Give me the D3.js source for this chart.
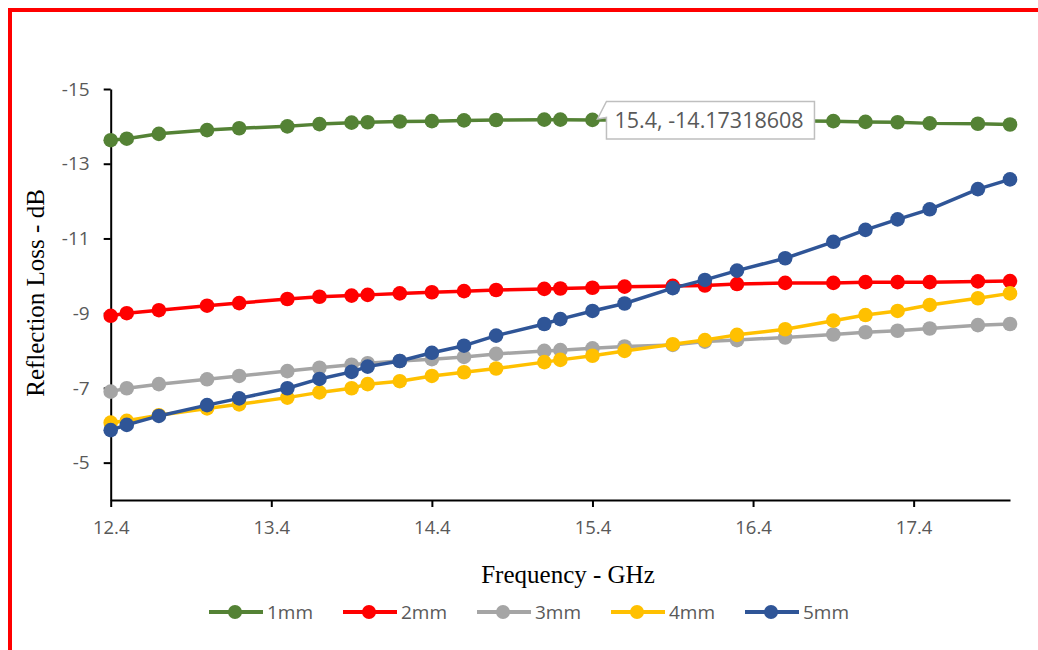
<!DOCTYPE html>
<html>
<head>
<meta charset="utf-8">
<script src="https://cdn.jsdelivr.net/npm/d3@7/dist/d3.min.js"></script>
<style>
  html, body { margin: 0; padding: 0; background: #fff; }
  svg { display: block; }
</style>
</head>
<body>
<svg id="chart" width="1038" height="650"></svg>
<script>
// Frequency sweep (GHz) shared by all thicknesses
const freq = [12.4, 12.5, 12.7, 13.0, 13.2, 13.5, 13.7, 13.9, 14.0, 14.2, 14.4, 14.6, 14.8,
              15.1, 15.2, 15.4, 15.6, 15.9, 16.1, 16.3, 16.6, 16.9, 17.1, 17.3, 17.5, 17.8, 18.0];

// Reflection loss (dB) per sample thickness
const rl1mm = [-13.63, -13.67, -13.80, -13.90, -13.95, -14.00, -14.06, -14.10, -14.11, -14.13, -14.14, -14.16, -14.17,
               -14.18, -14.18, -14.17318608, -14.17, -14.17, -14.16, -14.16, -14.15, -14.14, -14.12, -14.11, -14.08, -14.07, -14.05];
const rl2mm = [-8.93, -9.00, -9.08, -9.20, -9.27, -9.38, -9.44, -9.47, -9.49, -9.53, -9.56, -9.59, -9.62,
               -9.65, -9.66, -9.68, -9.71, -9.73, -9.74, -9.78, -9.81, -9.81, -9.83, -9.83, -9.83, -9.85, -9.86];
const rl3mm = [-6.90, -6.99, -7.10, -7.23, -7.32, -7.45, -7.54, -7.62, -7.66, -7.72, -7.77, -7.83, -7.91,
               -7.99, -8.01, -8.06, -8.11, -8.15, -8.24, -8.28, -8.35, -8.43, -8.49, -8.53, -8.59, -8.68, -8.71];
const rl4mm = [-6.07, -6.12, -6.27, -6.45, -6.56, -6.74, -6.88, -6.99, -7.10, -7.18, -7.32, -7.42, -7.52,
               -7.69, -7.75, -7.86, -7.99, -8.17, -8.28, -8.42, -8.57, -8.80, -8.95, -9.06, -9.22, -9.40, -9.53];
const rl5mm = [-5.87, -6.01, -6.25, -6.54, -6.72, -6.99, -7.24, -7.43, -7.57, -7.72, -7.94, -8.13, -8.40,
               -8.71, -8.84, -9.06, -9.26, -9.67, -9.89, -10.14, -10.47, -10.91, -11.23, -11.51, -11.78, -12.32, -12.58];

const seriesNames = ["1mm", "2mm", "3mm", "4mm", "5mm"];
const seriesValues = [rl1mm, rl2mm, rl3mm, rl4mm, rl5mm];
const seriesColors = ["#548235", "#FF0000", "#A5A5A5", "#FFC000", "#2F5597"];

const xTicks = [12.4, 13.4, 14.4, 15.4, 16.4, 17.4];
const yTicks = [-15, -13, -11, -9, -7, -5];

// Point carrying the data callout (series index, point index)
const calloutSeries = 0;
const calloutIndex = 15;

const svg = d3.select("#chart");

// Outer frame
svg.append("rect")
  .attr("x", 10).attr("y", 10)
  .attr("width", 1040).attr("height", 642)
  .attr("fill", "#fff")
  .attr("stroke", "#FF0000")
  .attr("stroke-width", 4);

const x = d3.scaleLinear().domain([12.4, 18.0]).range([110.7, 1010]);
const y = d3.scaleLinear().domain([-15, -4]).range([89, 500]);

const tickFont = "'Open Sans', 'Liberation Sans', sans-serif";

// X axis
const gx = svg.append("g")
  .attr("transform", `translate(0,${y(-4)})`)
  .call(d3.axisBottom(x).tickValues(xTicks).tickFormat(d3.format(".1f")).tickSize(7).tickSizeOuter(0).tickPadding(14));
gx.select(".domain").attr("stroke", "#000").attr("stroke-width", 2);
gx.selectAll(".tick line").attr("stroke", "#000").attr("stroke-width", 2);
gx.selectAll(".tick text").attr("fill", "#595959").style("font-family", tickFont).style("font-size", "18.5px");

// Y axis
const gy = svg.append("g")
  .attr("transform", `translate(${x(12.4)},0)`)
  .call(d3.axisLeft(y).tickValues(yTicks).tickFormat(d3.format("d")).tickSize(7).tickSizeOuter(0).tickPadding(14));
gy.select(".domain").attr("stroke", "#000").attr("stroke-width", 2);
gy.selectAll(".tick line").attr("stroke", "#000").attr("stroke-width", 2);
gy.selectAll(".tick text").attr("fill", "#595959").style("font-family", tickFont).style("font-size", "19px")
  .text(d => d3.format("d")(d).replace("\u2212", "-"));

// Axis titles
svg.append("text")
  .attr("x", 568).attr("y", 583)
  .attr("text-anchor", "middle")
  .style("font-family", "'Liberation Serif', 'Times New Roman', serif")
  .style("font-size", "25px")
  .attr("fill", "#000")
  .text("Frequency - GHz");

svg.append("text")
  .attr("transform", `translate(44,${293}) rotate(-90)`)
  .attr("text-anchor", "middle")
  .style("font-family", "'Liberation Serif', 'Times New Roman', serif")
  .style("font-size", "25px")
  .attr("fill", "#000")
  .text("Reflection Loss - dB");

// Series lines and markers
const line = d3.line().x(d => x(d.f)).y(d => y(d.v));
seriesValues.forEach((vals, i) => {
  const pts = freq.map((f, j) => ({ f, v: vals[j] }));
  const g = svg.append("g").attr("class", "series");
  g.append("path")
    .datum(pts)
    .attr("d", line)
    .attr("fill", "none")
    .attr("stroke", seriesColors[i])
    .attr("stroke-width", 3.5)
    .attr("stroke-linejoin", "round");
  g.selectAll("circle")
    .data(pts)
    .join("circle")
    .attr("cx", d => x(d.f))
    .attr("cy", d => y(d.v))
    .attr("r", 7.3)
    .attr("fill", seriesColors[i]);
});

// Data callout
{
  const f = freq[calloutIndex];
  const v = seriesValues[calloutSeries][calloutIndex];
  const px = x(f), py = y(v);
  const bx = px + 14, by = py - 18.5, bw = 208, bh = 37.5;
  const g = svg.append("g");
  g.append("path")
    .attr("d", `M${bx},${by} H${bx + bw} V${by + bh} H${bx} V${by + 16} L${px + 5},${py - 1} Z`)
    .attr("fill", "#fff")
    .attr("stroke", "#BFBFBF")
    .attr("stroke-width", 1.5);
  g.append("text")
    .attr("x", bx + 8).attr("y", by + 27)
    .style("font-family", "'Open Sans', 'Liberation Sans', sans-serif")
    .style("font-size", "21.5px")
    .attr("fill", "#595959")
    .text(`${f}, ${v}`);
}

// Legend
const legend = svg.append("g").attr("transform", "translate(209,612)");
seriesNames.forEach((name, i) => {
  const g = legend.append("g").attr("transform", `translate(${i * 134},0)`);
  g.append("line").attr("x1", 0).attr("x2", 54).attr("y1", 0).attr("y2", 0)
    .attr("stroke", seriesColors[i]).attr("stroke-width", 4);
  g.append("circle").attr("cx", 26).attr("cy", 0).attr("r", 7).attr("fill", seriesColors[i]);
  g.append("text").attr("x", 58).attr("y", 0).attr("dy", "0.36em")
    .style("font-family", tickFont).style("font-size", "19px")
    .attr("fill", "#595959").text(name);
});
</script>
</body>
</html>
